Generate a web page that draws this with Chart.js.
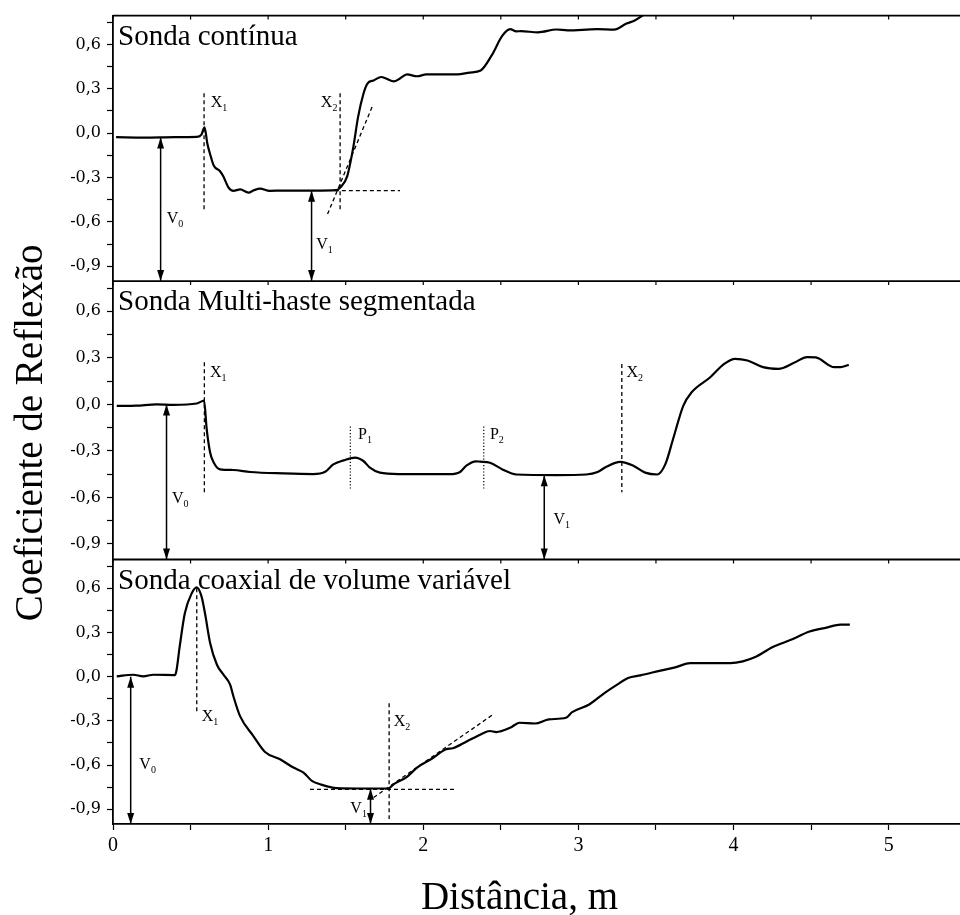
<!DOCTYPE html>
<html>
<head>
<meta charset="utf-8">
<script src="https://cdn.jsdelivr.net/npm/chart.js@4.4.1/dist/chart.umd.min.js"></script>
<style>
  html, body { margin: 0; padding: 0; background: #fff; }
  #wrap { width: 960px; height: 915px; }
</style>
</head>
<body>
<div id="wrap"><canvas id="reflexaoChart" width="960" height="915"></canvas></div>
<script>
// curvas: [distância (m), coeficiente de reflexão]
const sondaContinua = [
    [0.02, -0.027], [0.2, -0.03], [0.4, -0.027], [0.54, -0.025], [0.57, -0.01], [0.59, 0.04],
    [0.608, -0.07], [0.63, -0.156], [0.65, -0.22], [0.69, -0.257], [0.71, -0.29], [0.745, -0.368],
    [0.776, -0.39], [0.82, -0.38], [0.873, -0.402], [0.91, -0.385], [0.948, -0.375], [1.01, -0.39],
    [1.1, -0.388], [1.2, -0.388], [1.3, -0.388], [1.44, -0.385], [1.465, -0.368], [1.51, -0.29],
    [1.55, -0.089], [1.58, 0.11], [1.615, 0.268], [1.64, 0.335], [1.68, 0.357], [1.73, 0.38],
    [1.76, 0.37], [1.81, 0.35], [1.85, 0.37], [1.895, 0.397], [1.96, 0.385], [2.02, 0.397],
    [2.22, 0.397], [2.3, 0.41], [2.37, 0.424], [2.44, 0.524], [2.51, 0.659], [2.56, 0.703],
    [2.6, 0.688], [2.63, 0.69], [2.74, 0.682], [2.86, 0.701], [2.93, 0.695], [3.12, 0.703],
    [3.23, 0.7], [3.31, 0.741], [3.36, 0.76], [3.41, 0.793], [3.5, 0.86]
];
const sondaMultiHaste = [
    [0.024, -0.01], [0.15, -0.008], [0.28, 0.0], [0.39, -0.003], [0.54, 0.006], [0.587, 0.024],
    [0.604, -0.16], [0.626, -0.31], [0.65, -0.376], [0.69, -0.419], [0.776, -0.423], [0.884, -0.436],
    [1.1, -0.445], [1.29, -0.449], [1.368, -0.434], [1.42, -0.387], [1.486, -0.361], [1.561, -0.343],
    [1.614, -0.365], [1.656, -0.408], [1.72, -0.44], [1.85, -0.449], [2.17, -0.45], [2.237, -0.436],
    [2.28, -0.393], [2.34, -0.367], [2.365, -0.369], [2.43, -0.376], [2.51, -0.419], [2.6, -0.452],
    [2.86, -0.456], [3.05, -0.452], [3.124, -0.436], [3.18, -0.402], [3.27, -0.371], [3.357, -0.397],
    [3.43, -0.44], [3.508, -0.452], [3.56, -0.387], [3.61, -0.225], [3.676, -0.009], [3.73, 0.078],
    [3.85, 0.175], [3.94, 0.261], [4.01, 0.294], [4.09, 0.283], [4.19, 0.24], [4.29, 0.229],
    [4.39, 0.268], [4.475, 0.305], [4.53, 0.303], [4.65, 0.24], [4.69, 0.24], [4.743, 0.255]
];
const sondaCoaxial = [
    [0.024, 0.002], [0.13, 0.013], [0.195, 0.002], [0.26, 0.013], [0.4, 0.011], [0.41, 0.047],
    [0.43, 0.205], [0.463, 0.43], [0.507, 0.565], [0.54, 0.606], [0.571, 0.543], [0.593, 0.43],
    [0.626, 0.228], [0.67, 0.081], [0.712, 0.014], [0.755, -0.054], [0.776, -0.133], [0.819, -0.268],
    [0.905, -0.403], [0.98, -0.511], [1.077, -0.561], [1.163, -0.617], [1.228, -0.651], [1.282, -0.707],
    [1.335, -0.73], [1.443, -0.757], [1.593, -0.759], [1.776, -0.759], [1.81, -0.73], [1.895, -0.68],
    [1.96, -0.617], [2.06, -0.554], [2.147, -0.493], [2.19, -0.486], [2.28, -0.44], [2.37, -0.392],
    [2.43, -0.369], [2.47, -0.376], [2.56, -0.347], [2.62, -0.313], [2.72, -0.318], [2.81, -0.29],
    [2.92, -0.279], [2.96, -0.241], [3.07, -0.189], [3.17, -0.11], [3.25, -0.054], [3.32, -0.009],
    [3.4, 0.009], [3.53, 0.041], [3.63, 0.065], [3.72, 0.092], [3.85, 0.092], [3.98, 0.092],
    [4.06, 0.104], [4.14, 0.133], [4.25, 0.2], [4.37, 0.25], [4.49, 0.306], [4.6, 0.333],
    [4.69, 0.353], [4.75, 0.353]
];

const titulosPaineis = ['Sonda contínua', 'Sonda Multi-haste segmentada', 'Sonda coaxial de volume variável'];

const xTicksPrincipais = [0, 1, 2, 3, 4, 5];
const xRotulosTicks = ['0', '1', '2', '3', '4', '5'];
const yTicksPrincipais = [-0.9, -0.6, -0.3, 0, 0.3, 0.6];
const yRotulosTicks = ['-0,9', '-0,6', '-0,3', '0,0', '0,3', '0,6'];

// linhas auxiliares [x0, y0, x1, y1]
const tracejadoA = [[0.587, 0.27, 0.587, -0.53], [1.464, 0.27, 1.464, -0.53], [1.43, -0.388, 1.85, -0.388], [1.383, -0.547, 1.675, 0.19]];
const tracejadoB = [[0.589, 0.272, 0.589, -0.566], [3.28, 0.261, 3.28, -0.566]];
const pontilhadoB = [[1.53, -0.143, 1.53, -0.553], [2.39, -0.143, 2.39, -0.553]];
const tracejadoC = [[0.54, 0.6, 0.54, -0.245], [1.78, -0.18, 1.78, -0.966], [1.27, -0.765, 2.2, -0.765], [1.68, -0.82, 2.45, -0.257]];

// setas V0 / V1: [x, nível] até a base do painel
const setasA = [[0.307, -0.03], [1.28, -0.39]];
const setasB = [[0.345, 0.0], [2.78, -0.456]];
const setasC = [[0.114, 0.0], [1.66, -0.76]];

// rótulos [letra, índice, x, y]
const rotulosA = [['X', '1', 0.63, 0.179], ['X', '2', 1.34, 0.179], ['V', '0', 0.346, -0.607], ['V', '1', 1.31, -0.78]];
const rotulosB = [['X', '1', 0.625, 0.175], ['P', '1', 1.58, -0.22], ['P', '2', 2.43, -0.22], ['X', '2', 3.31, 0.175], ['V', '0', 0.38, -0.635], ['V', '1', 2.84, -0.77]];
const rotulosC = [['X', '1', 0.572, -0.302], ['X', '2', 1.81, -0.336], ['V', '0', 0.17, -0.628], ['V', '1', 1.53, -0.926]];

const Y_MIN = -1.0;
const Y_MAX = 0.795;

const paineis = [
    { eixo: 'yA', titulo: titulosPaineis[0], curva: sondaContinua, tracejado: tracejadoA, pontilhado: [], setas: setasA, rotulos: rotulosA, peso: 267 },
    { eixo: 'yB', titulo: titulosPaineis[1], curva: sondaMultiHaste, tracejado: tracejadoB, pontilhado: pontilhadoB, setas: setasB, rotulos: rotulosB, peso: 280 },
    { eixo: 'yC', titulo: titulosPaineis[2], curva: sondaCoaxial, tracejado: tracejadoC, pontilhado: [], setas: setasC, rotulos: rotulosC, peso: 266 }
];

function rotuloDe(valor, ticks, rotulos) {
    const i = ticks.findIndex(t => Math.abs(t - valor) < 1e-6);
    return i >= 0 ? rotulos[i] : '';
}

function segmento(s, eixo, dash, largura) {
    return {
        data: [{ x: s[0], y: s[1] }, { x: s[2], y: s[3] }],
        yAxisID: eixo,
        borderColor: '#000',
        borderWidth: largura,
        borderDash: dash,
        pointRadius: 0
    };
}

const datasets = [];
paineis.forEach(p => {
    datasets.push({
        data: p.curva.map(d => ({ x: d[0], y: d[1] })),
        yAxisID: p.eixo,
        borderColor: '#000',
        borderWidth: 2.2,
        pointRadius: 0,
        cubicInterpolationMode: 'monotone'
    });
    p.tracejado.forEach(s => datasets.push(segmento(s, p.eixo, [4, 3], 1.3)));
    p.pontilhado.forEach(s => datasets.push(segmento(s, p.eixo, [1.2, 2], 1.2)));
    p.setas.forEach(s => datasets.push({
        data: [{ x: s[0], y: s[1] }, { x: s[0], y: Y_MIN }],
        yAxisID: p.eixo,
        borderColor: '#000',
        borderWidth: 1.5,
        pointRadius: 0,
        seta: true
    }));
});

function eixoY(peso, ordem) {
    return {
        type: 'linear',
        position: 'left',
        stack: 'paineis',
        stackWeight: peso,
        weight: ordem,
        min: Y_MIN,
        max: Y_MAX,
        border: { display: true, color: '#000', width: 1.8 },
        grid: { drawOnChartArea: false, drawTicks: true, tickLength: 6, tickWidth: 1.2, color: '#000' },
        ticks: {
            stepSize: 0.15,
            includeBounds: false,
            autoSkip: false,
            padding: 6,
            color: '#000',
            font: { family: 'DejaVu Serif', size: 16 },
            callback: v => rotuloDe(v, yTicksPrincipais, yRotulosTicks)
        },
        afterFit: s => { s.width = 113; }
    };
}

// pontas das setas
const setaPlugin = {
    id: 'setaPlugin',
    afterDatasetsDraw(chart) {
        const ctx = chart.ctx;
        ctx.save();
        ctx.fillStyle = '#000';
        chart.data.datasets.forEach((ds, i) => {
            if (!ds.seta) return;
            const pts = chart.getDatasetMeta(i).data;
            [[pts[0], pts[1]], [pts[1], pts[0]]].forEach(([ponta, outro]) => {
                const dir = outro.y > ponta.y ? 1 : -1;
                ctx.beginPath();
                ctx.moveTo(ponta.x, ponta.y);
                ctx.lineTo(ponta.x - 3.5, ponta.y + dir * 11);
                ctx.lineTo(ponta.x + 3.5, ponta.y + dir * 11);
                ctx.closePath();
                ctx.fill();
            });
        });
        ctx.restore();
    }
};

// contorno dos painéis
const molduraPlugin = {
    id: 'molduraPlugin',
    afterDatasetsDraw(chart) {
        const { ctx, chartArea, scales } = chart;
        ctx.save();
        ctx.strokeStyle = '#000';
        paineis.forEach(p => {
            const top = scales[p.eixo].top;
            ctx.lineWidth = 1.8;
            ctx.beginPath();
            ctx.moveTo(chartArea.left, top);
            ctx.lineTo(chartArea.right, top);
            ctx.stroke();
            ctx.lineWidth = 1.2;
            scales.x.ticks.forEach(t => {
                const px = scales.x.getPixelForValue(t.value);
                ctx.beginPath();
                ctx.moveTo(px, top);
                ctx.lineTo(px, top + 4);
                ctx.stroke();
            });
        });
        ctx.restore();
    }
};

const textoPlugin = {
    id: 'textoPlugin',
    afterDraw(chart) {
        const { ctx, chartArea, scales } = chart;
        ctx.save();
        ctx.fillStyle = '#000';
        ctx.textBaseline = 'alphabetic';
        ctx.textAlign = 'left';
        paineis.forEach(p => {
            const ys = scales[p.eixo];
            ctx.font = '29px "Liberation Serif"';
            ctx.fillText(p.titulo, chartArea.left + 5, ys.top + 29);
            p.rotulos.forEach(([letra, indice, x, y]) => {
                const px = scales.x.getPixelForValue(x);
                const py = ys.getPixelForValue(y);
                ctx.font = '16px "Liberation Serif"';
                ctx.fillText(letra, px, py);
                const w = ctx.measureText(letra).width;
                ctx.font = '10px "Liberation Serif"';
                ctx.fillText(indice, px + w, py + 4);
            });
        });

        ctx.font = '39px "Liberation Serif"';
        ctx.textAlign = 'center';
        ctx.fillText('Distância, m', scales.x.getPixelForValue(2.62), chart.height - 6);

        ctx.translate(42, (chartArea.top + chartArea.bottom) / 2 + 13);
        ctx.rotate(-Math.PI / 2);
        ctx.fillText('Coeficiente de Reflexão', 0, 0);
        ctx.restore();
    }
};

Chart.defaults.font.family = '"Liberation Serif", serif';

new Chart(document.getElementById('reflexaoChart').getContext('2d'), {
    type: 'line',
    data: { datasets: datasets },
    options: {
        responsive: false,
        animation: false,
        layout: { padding: { top: 11, right: 0, bottom: 0, left: 0 } },
        plugins: {
            legend: { display: false },
            tooltip: { enabled: false }
        },
        scales: {
            x: {
                type: 'linear',
                min: 0,
                max: 5.46,
                border: { display: true, color: '#000', width: 1.8 },
                grid: { drawOnChartArea: false, drawTicks: true, tickLength: 6, tickWidth: 1.2, color: '#000' },
                ticks: {
                    stepSize: 0.5,
                    includeBounds: false,
                    autoSkip: false,
                    maxRotation: 0,
                    padding: 4,
                    color: '#000',
                    font: { family: 'Liberation Serif', size: 20 },
                    callback: v => rotuloDe(v, xTicksPrincipais, xRotulosTicks)
                },
                afterFit: s => { s.height = 91; }
            },
            yA: eixoY(paineis[0].peso, 3),
            yB: eixoY(paineis[1].peso, 2),
            yC: eixoY(paineis[2].peso, 1)
        }
    },
    plugins: [setaPlugin, molduraPlugin, textoPlugin]
});
</script>
</body>
</html>
